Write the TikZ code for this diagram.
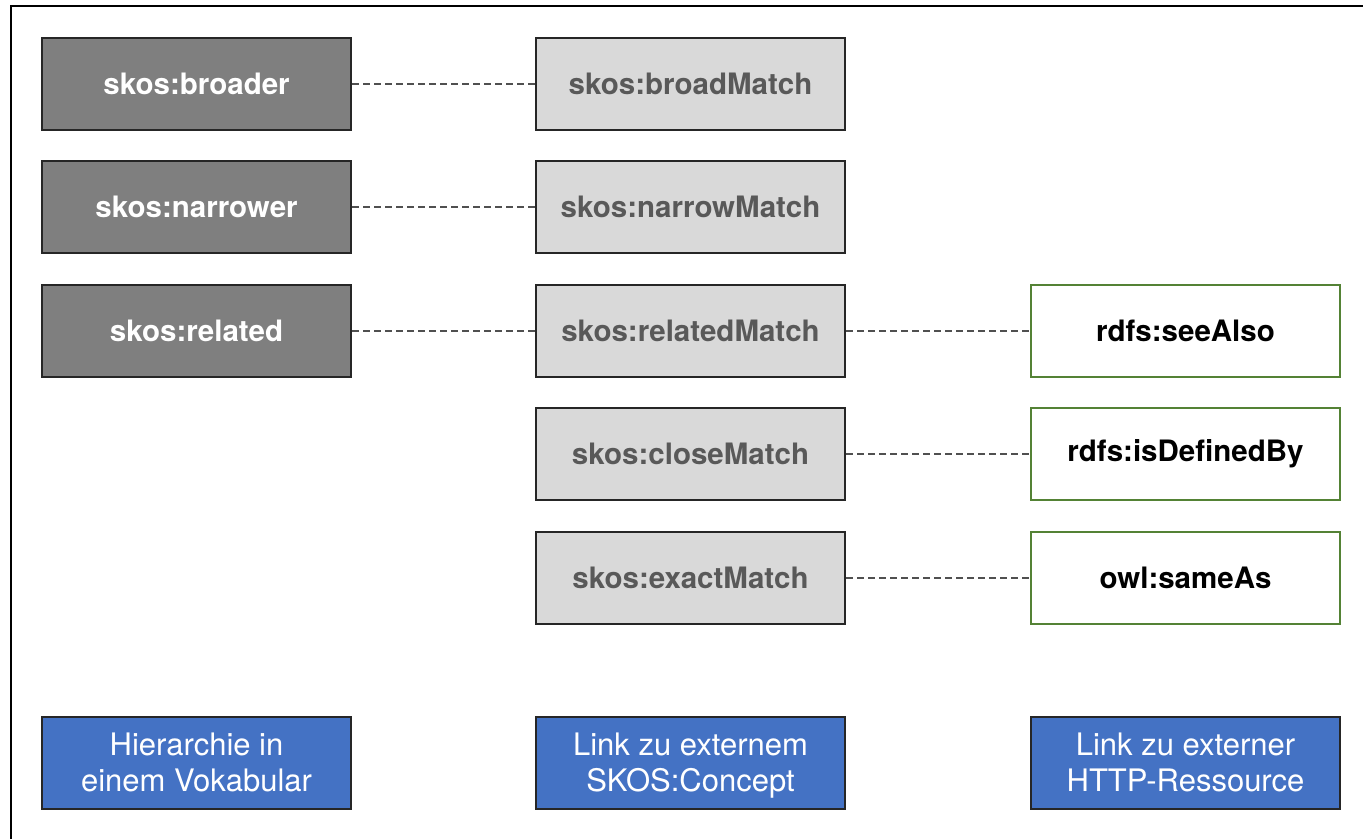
\documentclass[tikz,border=0pt]{standalone}
\usepackage{fontspec}
\setmainfont{TeX Gyre Heros}
\definecolor{darkbox}{HTML}{7F7F7F}
\definecolor{lightbox}{HTML}{D9D9D9}
\definecolor{lighttext}{HTML}{595959}
\definecolor{greenline}{HTML}{548235}
\definecolor{bluebox}{HTML}{4472C4}
\definecolor{dashcol}{HTML}{505050}
\newcommand{\mytopstrut}{\rule{0pt}{31.2pt}}
\tikzset{
  basebox/.style={draw=black!85, line width=2pt, minimum width=309pt, minimum height=92pt, inner sep=0pt, font=\fontsize{29.5}{35}\selectfont\bfseries},
  darkb/.style={basebox, fill=darkbox, text=white},
  lightb/.style={basebox, fill=lightbox, text=lighttext},
  whiteb/.style={basebox, draw=greenline, fill=white, text=black},
  blueb/.style={basebox, fill=bluebox, text=white, align=center, font=\fontsize{31}{36}\selectfont},
  link/.style={draw=dashcol, line width=2.5pt, dash pattern=on 7pt off 4pt}
}
\begin{document}
\begin{tikzpicture}[x=1pt,y=-1pt]
\useasboundingbox (0,0) rectangle (1363,839);
\draw[line width=2pt, black] (1363,6) -- (11,6) -- (11,839);
% column 1
\node[darkb] (broader) at (196.5,84) {skos:broader};
\node[darkb] (narrower) at (196.5,207) {skos:narrower};
\node[darkb] (related) at (196.5,331) {skos:related};
% column 2
\node[lightb] (broadM) at (690.5,84) {skos:broadMatch};
\node[lightb] (narrowM) at (690.5,207) {skos:narrowMatch};
\node[lightb] (relatedM) at (690.5,331) {skos:relatedMatch};
\node[lightb] (closeM) at (690.5,454) {skos:closeMatch};
\node[lightb] (exactM) at (690.5,578) {skos:exactMatch};
% column 3
\node[whiteb] (seeAlso) at (1185.5,331) {rdfs:seeAlso};
\node[whiteb] (definedBy) at (1185.5,454) {rdfs:isDefinedBy};
\node[whiteb] (sameAs) at (1185.5,578) {owl:sameAs};
% legend
\node[blueb] (leg1) at (196.5,763) {\mytopstrut Hierarchie in\\einem Vokabular\strut};
\node[blueb] (leg2) at (690.5,763) {\mytopstrut Link zu externem\\SKOS:Concept\strut};
\node[blueb] (leg3) at (1185.5,763) {\mytopstrut Link zu externer\\HTTP-Ressource\strut};
% links
\draw[link] (broader.east) -- (broadM.west);
\draw[link] (narrower.east) -- (narrowM.west);
\draw[link] (related.east) -- (relatedM.west);
\draw[link] (relatedM.east) -- (seeAlso.west);
\draw[link] (closeM.east) -- (definedBy.west);
\draw[link] (exactM.east) -- (sameAs.west);
\end{tikzpicture}
\end{document}
